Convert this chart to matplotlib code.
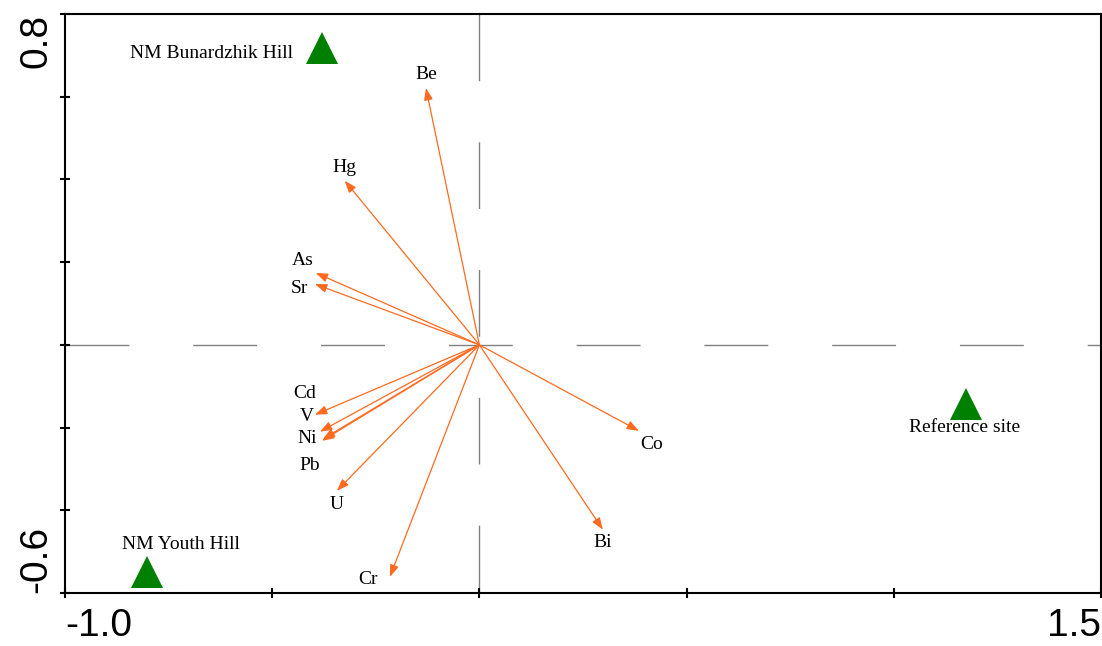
import numpy as np
import matplotlib
matplotlib.use("Agg")
import matplotlib.pyplot as plt

# ---- data ----
elements = ["Be", "Hg", "As", "Sr", "Cd", "V", "Ni", "Pb", "U", "Cr", "Co", "Bi"]
axis1 = [-0.129, -0.325, -0.395, -0.397, -0.397, -0.385, -0.380, -0.378, -0.344, -0.216, 0.385, 0.298]
axis2 = [0.621, 0.397, 0.174, 0.147, -0.169, -0.210, -0.232, -0.228, -0.353, -0.561, -0.208, -0.447]

sites = ["NM Bunardzhik Hill", "NM Youth Hill", "Reference site"]
site_x = [-0.380, -0.801, 1.174]
site_y = [0.717, -0.549, -0.143]

xticks = [-1.0, -0.5, 0.0, 0.5, 1.0, 1.5]
xticklabels = ["-1.0", "", "", "", "", "1.5"]
yticks = [-0.6, -0.4, -0.2, 0.0, 0.2, 0.4, 0.6, 0.8]
yticklabels = ["-0.6", "", "", "", "", "", "", "0.8"]

# ---- label layout (pixel offsets from arrow tip / marker) ----
elem_offsets = {
    "Be": (0, 14), "Hg": (0, 13), "As": (-13, 12), "Sr": (-15, -4),
    "Cd": (-10, 21), "V": (-13, 15), "Ni": (-15, 2), "Pb": (-13, -26),
    "U": (0, -14), "Cr": (-22, -3), "Co": (13, -14), "Bi": (0, -13),
}
site_offsets = {
    "NM Bunardzhik Hill": (-29, -5, "right"),
    "NM Youth Hill": (33, 27, "center"),
    "Reference site": (-1, -24, "center"),
}

arrow_color = "#FF6A1F"
serif = ["Liberation Serif", "DejaVu Serif"]
sans = ["Liberation Sans", "DejaVu Sans"]

fig = plt.figure(figsize=(11.02, 6.46), dpi=100)
ax = fig.add_axes([65 / 1102, 53 / 646, 1036 / 1102, 579 / 646])
ax.set_xlim(-1.0, 1.5)
ax.set_ylim(-0.6, 0.8)

# dashed zero lines
ax.plot([-1.0, 1.5], [0, 0], color="#808080", lw=1.0, dashes=(46, 46), zorder=1)
ax.plot([0, 0], [0.8, -0.6], color="#808080", lw=1.0, dashes=(48, 44), zorder=1)

# arrows
for name, x, y in zip(elements, axis1, axis2):
    ax.annotate("", xy=(x, y), xytext=(0, 0),
                arrowprops=dict(arrowstyle="-|>,head_length=0.6,head_width=0.22",
                                color=arrow_color, lw=0.9, mutation_scale=12,
                                shrinkA=0, shrinkB=0), zorder=3)
    dx, dy = elem_offsets[name]
    ax.annotate(name, xy=(x, y), xytext=(dx, dy), textcoords="offset pixels",
                ha="center", va="center", fontsize=14, family=serif, zorder=4)

# sites
ax.plot(site_x, site_y, linestyle="none", marker="^", markersize=23,
        color="#008000", markeredgewidth=0, zorder=5)
for name, x, y in zip(sites, site_x, site_y):
    dx, dy, ha = site_offsets[name]
    ax.annotate(name, xy=(x, y), xytext=(dx, dy), textcoords="offset pixels",
                ha=ha, va="center", fontsize=14, family=serif, zorder=4)

# axes styling
for s in ax.spines.values():
    s.set_linewidth(1.5)
ax.set_xticks(xticks, labels=xticklabels)
ax.set_yticks(yticks, labels=yticklabels)
ax.tick_params(axis="both", direction="inout", length=7, width=1.5,
               labelsize=28)
ax.tick_params(axis="x", pad=7)
ax.tick_params(axis="y", pad=4)
for lab in ax.get_xticklabels():
    lab.set_family(sans)
for lab in ax.get_yticklabels():
    lab.set_family(sans)
    lab.set_rotation(90)
xl = ax.get_xticklabels()
xl[0].set_ha("left")
xl[-1].set_ha("right")
yl = ax.get_yticklabels()
yl[0].set_va("bottom")
yl[-1].set_va("top")
for lab in yl:
    lab.set_ha("right")

fig.savefig("out.png", dpi=100)
